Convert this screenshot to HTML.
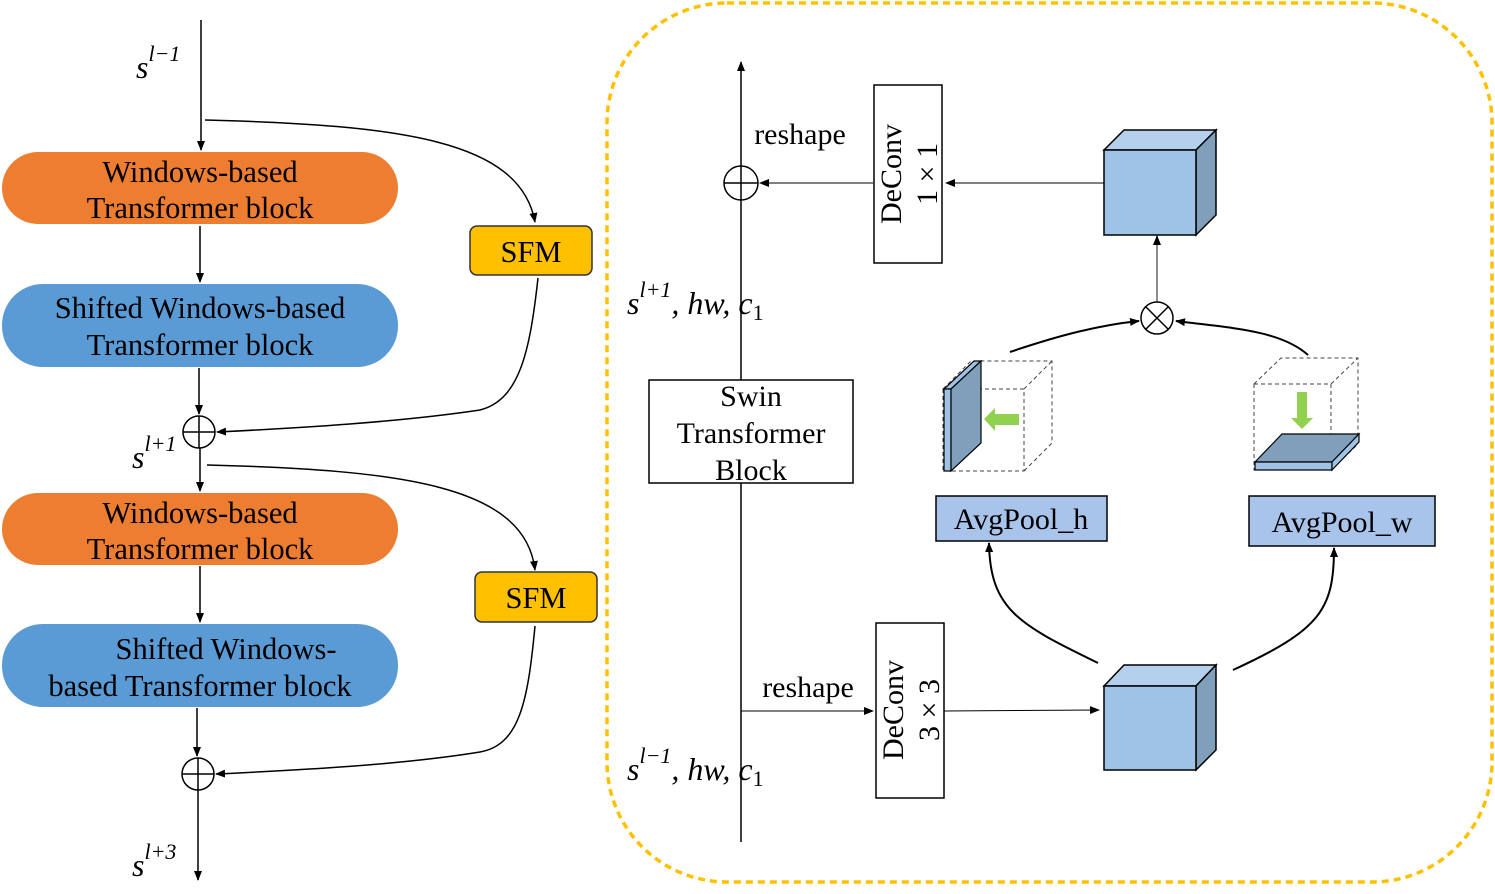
<!DOCTYPE html>
<html><head><meta charset="utf-8"><style>
html,body{margin:0;padding:0;background:#fff}
svg{display:block}
text{font-family:"Liberation Serif",serif;fill:#000}
.it{font-style:italic}
</style></head><body>
<svg width="1495" height="894" viewBox="0 0 1495 894" xmlns="http://www.w3.org/2000/svg">
<defs>
<marker id="a" markerWidth="10" markerHeight="10" refX="9" refY="5" orient="auto" markerUnits="userSpaceOnUse"><path d="M0,1 L10,5 L0,9 z" fill="#000"/></marker>
</defs>
<g stroke="#000" stroke-width="1.5" fill="none">
<line x1="201" y1="20" x2="201" y2="150" marker-end="url(#a)"/>
<line x1="200" y1="226" x2="200" y2="282" marker-end="url(#a)"/>
<line x1="199" y1="368" x2="199" y2="414" marker-end="url(#a)"/>
<line x1="200" y1="448" x2="200" y2="491" marker-end="url(#a)"/>
<line x1="200" y1="566" x2="200" y2="622" marker-end="url(#a)"/>
<line x1="197" y1="708" x2="197" y2="756" marker-end="url(#a)"/>
<line x1="198" y1="790" x2="198" y2="880" marker-end="url(#a)"/>
<path d="M205,120 C400,125 520,140 535,222" marker-end="url(#a)"/>
<path d="M538,278 C530,350 520,400 480,410 C400,422 300,428 217,432" marker-end="url(#a)"/>
<path d="M207,465 C400,470 525,485 535,570" marker-end="url(#a)"/>
<path d="M535,626 C528,700 520,745 480,752 C400,765 300,770 216,774" marker-end="url(#a)"/>
<circle cx="199" cy="432" r="16"/><line x1="183" y1="432" x2="215" y2="432"/><line x1="199" y1="416" x2="199" y2="448"/>
<circle cx="198" cy="774" r="16"/><line x1="182" y1="774" x2="214" y2="774"/><line x1="198" y1="758" x2="198" y2="790"/>
</g>
<rect x="2" y="152" width="396" height="72" rx="36" fill="#ED7D31"/>
<rect x="2" y="284" width="396" height="83" rx="41" fill="#5B9BD5"/>
<rect x="2" y="493" width="396" height="72" rx="36" fill="#ED7D31"/>
<rect x="2" y="624" width="396" height="83" rx="41" fill="#5B9BD5"/>
<rect x="470" y="226" width="122" height="49" rx="7" fill="#FFC000" stroke="#333" stroke-width="1.5"/>
<rect x="475" y="572" width="122" height="50" rx="7" fill="#FFC000" stroke="#333" stroke-width="1.5"/>
<g font-size="30.5" text-anchor="middle">
<text x="200" y="182">Windows-based</text><text x="200" y="218">Transformer block</text>
<text x="200" y="318">Shifted Windows-based</text><text x="200" y="355">Transformer block</text>
<text x="200" y="523">Windows-based</text><text x="200" y="559">Transformer block</text>
<text x="226" y="659">Shifted Windows-</text><text x="200" y="696">based Transformer block</text>
<text x="531" y="262">SFM</text><text x="536" y="608">SFM</text>
</g>
<g font-size="32" class="it">
<text x="136" y="78">s<tspan font-size="22" dy="-17">l−1</tspan></text>
<text x="132" y="468">s<tspan font-size="22" dy="-17">l+1</tspan></text>
<text x="132" y="876">s<tspan font-size="22" dy="-17">l+3</tspan></text>
<text x="627" y="314">s<tspan font-size="22" dy="-17">l+1</tspan><tspan dy="17">, hw, c</tspan><tspan font-size="22" dy="6" font-style="normal">1</tspan></text>
<text x="627" y="780">s<tspan font-size="22" dy="-17">l−1</tspan><tspan dy="17">, hw, c</tspan><tspan font-size="22" dy="6" font-style="normal">1</tspan></text>
</g>
<rect x="607" y="3" width="885" height="879" rx="120" fill="none" stroke="#FFC000" stroke-width="3.5" stroke-dasharray="7,5"/>
<g stroke="#000" stroke-width="1.5" fill="none">
<line x1="741" y1="842" x2="741" y2="62" marker-end="url(#a)"/>
<circle cx="741" cy="183" r="17" fill="#fff"/><line x1="724" y1="183" x2="758" y2="183"/><line x1="741" y1="166" x2="741" y2="200"/>
<line x1="873" y1="183" x2="760" y2="183" stroke-width="1" marker-end="url(#a)"/>
<line x1="1104" y1="183" x2="946" y2="183" stroke-width="1" marker-end="url(#a)"/>
<line x1="1157" y1="302" x2="1157" y2="236" stroke="#666" marker-end="url(#a)"/>
<circle cx="1157" cy="318" r="16"/><line x1="1146" y1="307" x2="1168" y2="329"/><line x1="1168" y1="307" x2="1146" y2="329"/>
<path d="M1010,352 C1060,335 1100,325 1139,321" stroke-width="2" marker-end="url(#a)"/>
<path d="M1308,355 C1280,330 1230,328 1176,321" stroke-width="2" marker-end="url(#a)"/>
<line x1="741" y1="711" x2="873" y2="711" stroke-width="1" marker-end="url(#a)"/>
<line x1="944" y1="711" x2="1099" y2="710" stroke-width="1" marker-end="url(#a)"/>
<path d="M1098,663 C1020,625 990,610 989,543" stroke-width="2" marker-end="url(#a)"/>
<path d="M1233,670 C1320,630 1334,610 1334,548" stroke-width="2" marker-end="url(#a)"/>
</g>
<rect x="649" y="380" width="204" height="103" fill="#fff" stroke="#000" stroke-width="1.5"/>
<g font-size="30" text-anchor="middle">
<text x="751" y="406">Swin</text><text x="751" y="443">Transformer</text><text x="751" y="480">Block</text>
<text x="800" y="144">reshape</text><text x="808" y="697">reshape</text>
</g>
<rect x="874" y="85" width="68" height="178" fill="#fff" stroke="#000" stroke-width="1.5"/>
<rect x="876" y="623" width="68" height="175" fill="#fff" stroke="#000" stroke-width="1.5"/>
<g font-size="30" text-anchor="middle">
<text transform="translate(901,174) rotate(-90)">DeConv</text>
<text transform="translate(937,174) rotate(-90)">1 × 1</text>
<text transform="translate(903,710) rotate(-90)">DeConv</text>
<text transform="translate(939,710) rotate(-90)">3 × 3</text>
</g>
<g stroke="#000" stroke-width="1.5">
<polygon points="1104,150 1124,130 1216,130 1196,150" fill="#B4D0EC"/>
<polygon points="1196,150 1216,130 1216,215 1196,235" fill="#7F9FBA"/>
<rect x="1104" y="150" width="92" height="85" fill="#9FC3E7"/>
<polygon points="1104,686 1124,665 1216,665 1196,686" fill="#B4D0EC"/>
<polygon points="1196,686 1216,665 1216,750 1196,770" fill="#7F9FBA"/>
<rect x="1104" y="686" width="92" height="84" fill="#9FC3E7"/>
</g>
<g stroke="#444" stroke-width="1" stroke-dasharray="4,3" fill="none">
<rect x="943" y="389" width="81" height="82"/>
<polyline points="943,389 971,361 1052,361 1052,443 1024,471"/><line x1="1024" y1="389" x2="1052" y2="361"/>
<rect x="1254" y="384" width="77" height="86"/>
<polyline points="1254,384 1281,358 1358,358 1358,444 1331,470"/><line x1="1331" y1="384" x2="1358" y2="358"/>
</g>
<g stroke="#000" stroke-width="1.2">
<polygon points="944,389 951,389 981,361 974,361" fill="#9FC3E7"/>
<rect x="944" y="389" width="7" height="82" fill="#9FC3E7"/>
<polygon points="951,389 981,361 981,443 951,471" fill="#7F9FBA"/>
<polygon points="1255,462 1282,434 1359,434 1332,462" fill="#7F9FBA"/>
<polygon points="1255,462 1332,462 1332,470 1255,470" fill="#9FC3E7"/>
<polygon points="1332,462 1359,434 1359,442 1332,470" fill="#9FC3E7"/>
</g>
<polygon points="984,419 995,408 995,414 1019,414 1019,425 995,425 995,431" fill="#92D050"/>
<polygon points="1302,429 1291,418 1297,418 1297,392 1307,392 1307,418 1313,418" fill="#92D050"/>
<rect x="936" y="496" width="171" height="45" fill="#A9C4EB" stroke="#000" stroke-width="1.5"/>
<rect x="1249" y="496" width="186" height="50" fill="#A9C4EB" stroke="#000" stroke-width="1.5"/>
<g font-size="30" text-anchor="middle">
<text x="1021" y="529">AvgPool_h</text><text x="1342" y="532">AvgPool_w</text>
</g>
</svg>
</body></html>
